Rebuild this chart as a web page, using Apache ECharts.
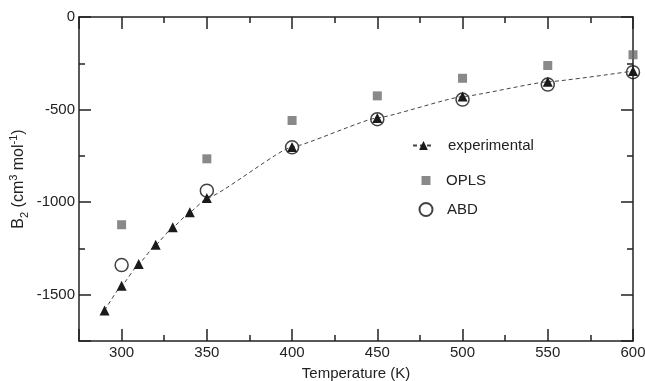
<!DOCTYPE html>
<html>
<head>
<meta charset="utf-8">
<script src="https://cdn.jsdelivr.net/npm/echarts@6/dist/echarts.min.js"></script>
<style>
html,body{margin:0;padding:0;background:#fff;}
#c{width:645px;height:381px;}
</style>
</head>
<body>
<div id="c"></div>
<script>
// Data
var expT = [290, 300, 310, 320, 330, 340, 350, 400, 450, 500, 550, 600];
var expB = [-1585, -1451, -1334, -1230, -1136, -1055, -978, -702, -545, -430, -350, -292];
var oplsT = [300, 350, 400, 450, 500, 550, 600];
var oplsB = [-1122, -766, -559, -426, -331, -262, -204];
var abdT = [300, 350, 400, 450, 500, 550, 600];
var abdB = [-1340, -938, -704, -552, -446, -365, -298];
var xName = 'Temperature (K)';
var seriesNames = ['experimental', 'OPLS', 'ABD'];

function pairs(xs, ys) { return xs.map(function (x, i) { return [x, ys[i]]; }); }

var FONT = 'Liberation Sans';
var TXT = '#222';
var AX = '#222';

var chart = echarts.init(document.getElementById('c'));

function legendItem(name, left, top, w, h, pad, icon) {
  var l = {
    data: [name], orient: 'vertical', left: left, top: top, padding: 0,
    itemWidth: w, itemHeight: h, selectedMode: false,
    textStyle: { fontFamily: FONT, fontSize: 15, color: TXT, padding: [0, 0, 0, pad] }
  };
  if (icon) l.icon = icon;
  return l;
}
function plain(v) { return String(v); }

var baseX = {
  type: 'value', min: 275, max: 600, splitNumber: 6,
  axisLine: { onZero: false, lineStyle: { color: AX, width: 1.5 } },
  axisTick: { inside: true, length: 12, lineStyle: { color: AX, width: 1.5 } },
  minorTick: { show: true, splitNumber: 2, length: 6, lineStyle: { color: AX, width: 1.5 } },
  splitLine: { show: false }
};
var baseY = {
  type: 'value', min: -1750, max: 0, splitNumber: 4,
  axisLine: { onZero: false, lineStyle: { color: AX, width: 1.5 } },
  axisTick: { inside: true, length: 12, lineStyle: { color: AX, width: 1.5 } },
  minorTick: { show: true, splitNumber: 2, length: 6, lineStyle: { color: AX, width: 1.5 } },
  splitLine: { show: false }
};

var option = {
  animation: false,
  backgroundColor: '#fff',
  grid: { left: 79, right: 12, top: 17, bottom: 40, containLabel: false, outerBoundsMode: 'none' },
  legend: [
    legendItem(seriesNames[0], 412, 138, 21, 11, 9),
    legendItem(seriesNames[1], 421.5, 173, 9, 9, 10.5, 'rect'),
    legendItem(seriesNames[2], 418.5, 202, 13, 13, 9.5, 'circle')
  ],
  xAxis: [
    Object.assign({}, baseX, {
      position: 'bottom',
      name: xName, nameLocation: 'middle', nameGap: 25,
      nameTextStyle: { fontFamily: FONT, fontSize: 15, color: TXT },
      axisLabel: { fontFamily: FONT, fontSize: 15, color: TXT, margin: 4, showMinLabel: false, formatter: plain }
    }),
    Object.assign({}, baseX, { position: 'top', axisLabel: { show: false } })
  ],
  yAxis: [
    Object.assign({}, baseY, {
      position: 'left',
      name: '{a|B}{sub|2}{a| (cm}{sup|3}{a| mol}{sup|-1}{a|)}',
      nameLocation: 'middle', nameGap: 49, nameRotate: 90, nameMoveOverlap: false,
      nameTextStyle: {
        fontFamily: FONT, fontSize: 16, color: TXT,
        rich: {
          a: { fontFamily: FONT, fontSize: 16, color: TXT, lineHeight: 22, verticalAlign: 'middle' },
          sup: { fontFamily: FONT, fontSize: 11, color: TXT, lineHeight: 10, verticalAlign: 'top' },
          sub: { fontFamily: FONT, fontSize: 11, color: TXT, lineHeight: 10, verticalAlign: 'bottom' }
        }
      },
      axisLabel: { fontFamily: FONT, fontSize: 15, color: TXT, margin: 4, showMinLabel: false, formatter: plain }
    }),
    Object.assign({}, baseY, { position: 'right', axisLabel: { show: false } })
  ],
  series: [
    {
      name: seriesNames[1], type: 'scatter', xAxisIndex: 0, yAxisIndex: 0,
      symbol: 'rect', symbolSize: 9,
      itemStyle: { color: '#6b6b6b' },
      data: pairs(oplsT, oplsB), z: 2
    },
    {
      name: seriesNames[2], type: 'scatter', xAxisIndex: 0, yAxisIndex: 0,
      symbol: 'circle', symbolSize: 13,
      itemStyle: { color: 'rgba(255,255,255,0)', borderColor: '#111', borderWidth: 1.5 },
      data: pairs(abdT, abdB), z: 3
    },
    {
      name: seriesNames[0], type: 'line', xAxisIndex: 0, yAxisIndex: 0,
      smooth: 0.12, smoothMonotone: 'x',
      symbol: 'triangle', symbolSize: 10, showAllSymbol: true,
      lineStyle: { color: '#444', width: 1, type: [4, 3] },
      itemStyle: { color: '#1a1a1a' },
      data: pairs(expT, expB), z: 4
    }
  ]
};
chart.setOption(option);
</script>
</body>
</html>
